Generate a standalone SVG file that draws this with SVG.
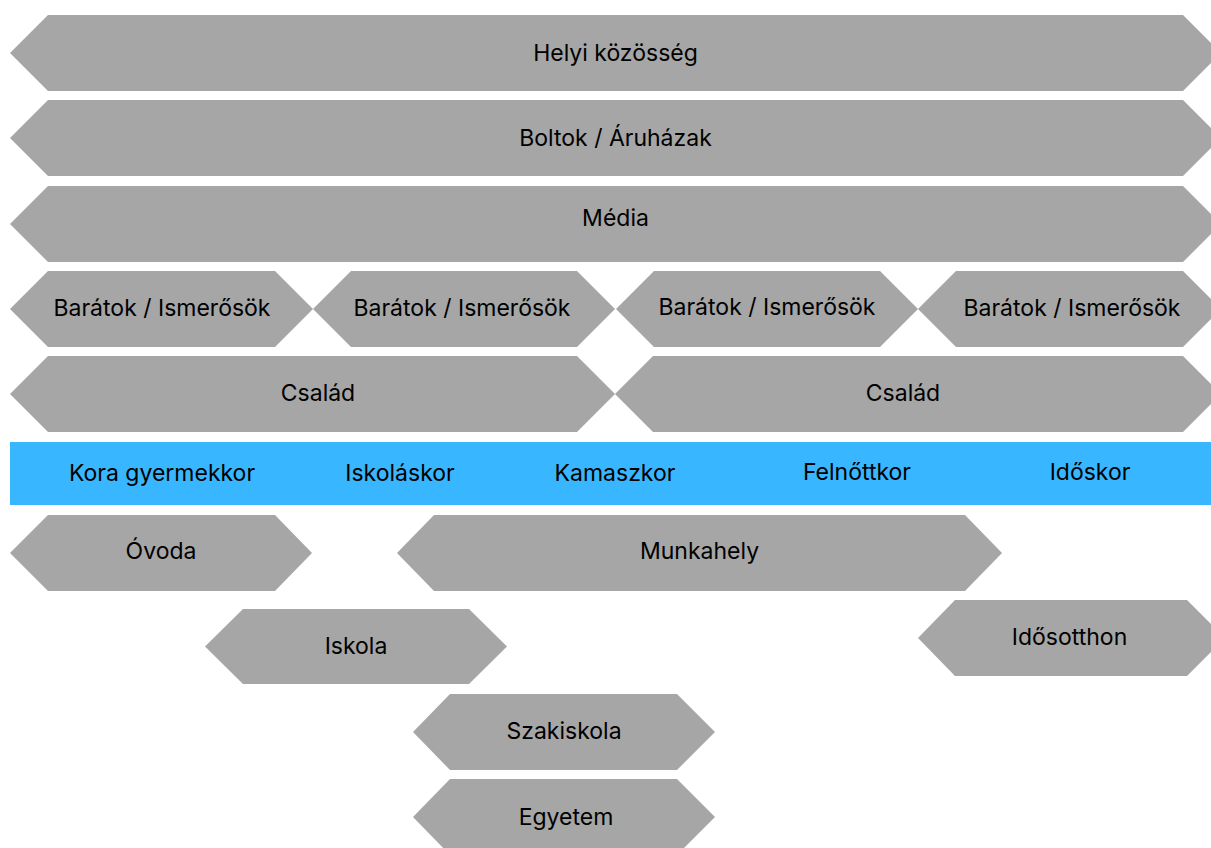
<svg xmlns="http://www.w3.org/2000/svg" width="1211" height="848" viewBox="0 0 1211 848">
<style>
.hex{fill:#a6a6a6;}
.bar{fill:#38b6ff;}
text{font-family:Inter,"Liberation Sans",sans-serif;font-size:23px;fill:#000;text-anchor:middle;dominant-baseline:central;}
</style>
<rect width="1211" height="848" fill="#ffffff"/>
<g id="helyi"><polygon class="hex" points="10,53 48,15 1183,15 1221,53 1183,91 48,91"/><text x="615.5" y="53">Helyi közösség</text></g>
<g id="boltok"><polygon class="hex" points="10,138 48,100 1183,100 1221,138 1183,176 48,176"/><text x="615.5" y="138">Boltok / Áruházak</text></g>
<g id="media"><polygon class="hex" points="10,224 48,186 1183,186 1221,224 1183,262 48,262"/><text x="615.5" y="218">Média</text></g>
<g id="baratok1"><polygon class="hex" points="10,309 48,271 275,271 313,309 275,347 48,347"/><text x="162" y="308">Barátok / Ismerősök</text></g>
<g id="baratok2"><polygon class="hex" points="313,309 351,271 577,271 615,309 577,347 351,347"/><text x="462" y="308">Barátok / Ismerősök</text></g>
<g id="baratok3"><polygon class="hex" points="616,309 654,271 880,271 918,309 880,347 654,347"/><text x="767" y="307">Barátok / Ismerősök</text></g>
<g id="baratok4"><polygon class="hex" points="918,309 956,271 1183,271 1221,309 1183,347 956,347"/><text x="1072" y="308">Barátok / Ismerősök</text></g>
<g id="csalad1"><polygon class="hex" points="10,394 48,356 577,356 615,394 577,432 48,432"/><text x="318" y="393">Család</text></g>
<g id="csalad2"><polygon class="hex" points="615,394 653,356 1183,356 1221,394 1183,432 653,432"/><text x="903" y="393">Család</text></g>
<g id="eletkor">
<rect class="bar" x="10" y="442" width="1201" height="63"/>
<text x="162" y="473">Kora gyermekkor</text>
<text x="400" y="473">Iskoláskor</text>
<text x="615" y="473">Kamaszkor</text>
<text x="857" y="472">Felnőttkor</text>
<text x="1090" y="472">Időskor</text>
</g>
<g id="ovoda"><polygon class="hex" points="10,553 48,515 275,515 312,553 275,591 48,591"/><text x="161" y="551">Óvoda</text></g>
<g id="munkahely"><polygon class="hex" points="397,553 434,515 965,515 1002,553 965,591 434,591"/><text x="699.5" y="551">Munkahely</text></g>
<g id="iskola"><polygon class="hex" points="205,646.5 243,609 469,609 507,646.5 469,684 243,684"/><text x="356" y="646">Iskola</text></g>
<g id="idosotthon"><polygon class="hex" points="918,638 955,600 1187,600 1225,638 1187,676 955,676"/><text x="1069.5" y="637">Idősotthon</text></g>
<g id="szakiskola"><polygon class="hex" points="413,732 450,694 677,694 715,732 677,770 450,770"/><text x="564" y="731">Szakiskola</text></g>
<g id="egyetem"><polygon class="hex" points="413,817 450,779 677,779 715,817 677,855 450,855"/><text x="566" y="817">Egyetem</text></g>
<g id="connectors"></g>
</svg>
